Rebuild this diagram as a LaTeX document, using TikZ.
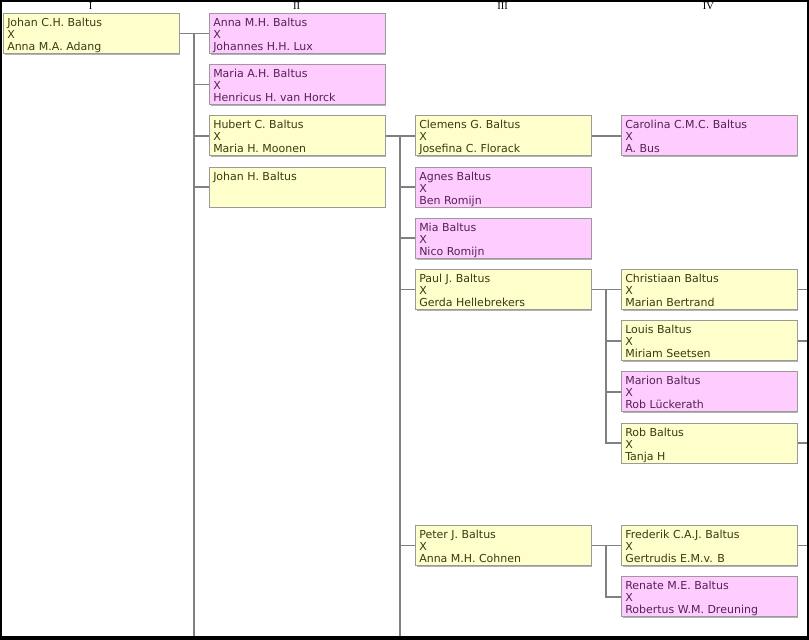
\documentclass[tikz,border=0pt]{standalone}
\usepackage{fontspec}
\setmainfont{DejaVu Sans}
\newfontfamily\hdrfont{Liberation Serif}
\usetikzlibrary{shadows,backgrounds}
\definecolor{boxyel}{HTML}{FFFFCC}
\definecolor{boxpnk}{HTML}{FFCCFF}
\definecolor{txtyel}{HTML}{3A3A14}
\definecolor{txtpnk}{HTML}{552255}
\definecolor{boxline}{HTML}{9A9A9A}
\definecolor{linegray}{HTML}{808080}
\newcommand{\ptext}[1]{\parbox[t][36bp][t]{168bp}{\fontsize{11bp}{12bp}\selectfont\rule{0pt}{11bp}#1}}
\tikzset{
  person/.style={rectangle, anchor=north west, minimum width=175bp, minimum height=40bp,
    inner xsep=3.8bp, inner ysep=2bp, draw=boxline, line width=0.9bp,
    drop shadow={shadow xshift=1.4bp, shadow yshift=-1.4bp, fill=black!30, opacity=1}},
  yel/.style={person, fill=boxyel, text=txtyel},
  pnk/.style={person, fill=boxpnk, text=txtpnk},
  conn/.style={draw=linegray, line width=1.7bp},
  hdr/.style={font=\hdrfont\fontsize{10.5bp}{12bp}\selectfont, text=black, inner sep=0pt},
}
\begin{document}
\begin{tikzpicture}[x=1bp, y=-1bp]
\useasboundingbox (0,0) rectangle (809,640);
% headers
\node[hdr] (h1) at (90.5,6.5) {I};
\node[hdr] (h2) at (296.5,6.5) {II};
\node[hdr] (h3) at (502.5,6.5) {III};
\node[hdr] (h4) at (708.5,6.5) {IV};
% column I
\node[yel] (johan) at (3,13) {\ptext{Johan C.H. Baltus\\X\\Anna M.A. Adang}};
% column II
\node[pnk] (annamh) at (209,13) {\ptext{Anna M.H. Baltus\\X\\Johannes H.H. Lux}};
\node[pnk] (mariaah) at (209,64.2) {\ptext{Maria A.H. Baltus\\X\\Henricus H. van Horck}};
\node[yel] (hubert) at (209,115.4) {\ptext{Hubert C. Baltus\\X\\Maria H. Moonen}};
\node[yel] (johanh) at (209,166.6) {\ptext{Johan H. Baltus}};
% column III
\node[yel] (clemens) at (415,115.4) {\ptext{Clemens G. Baltus\\X\\Josefina C. Florack}};
\node[pnk] (agnes) at (415,166.6) {\ptext{Agnes Baltus\\X\\Ben Romijn}};
\node[pnk] (mia) at (415,217.8) {\ptext{Mia Baltus\\X\\Nico Romijn}};
\node[yel] (paul) at (415,269) {\ptext{Paul J. Baltus\\X\\Gerda Hellebrekers}};
\node[yel] (peter) at (415,525) {\ptext{Peter J. Baltus\\X\\Anna M.H. Cohnen}};
% column IV
\node[pnk] (carolina) at (621,115.4) {\ptext{Carolina C.M.C. Baltus\\X\\A. Bus}};
\node[yel] (christiaan) at (621,269) {\ptext{Christiaan Baltus\\X\\Marian Bertrand}};
\node[yel] (louis) at (621,320.2) {\ptext{Louis Baltus\\X\\Miriam Seetsen}};
\node[pnk] (marion) at (621,371.4) {\ptext{Marion Baltus\\X\\Rob Lückerath}};
\node[yel] (rob) at (621,422.6) {\ptext{Rob Baltus\\X\\Tanja H}};
\node[yel] (frederik) at (621,525) {\ptext{Frederik C.A.J. Baltus\\X\\Gertrudis E.M.v. B}};
\node[pnk] (renate) at (621,576.2) {\ptext{Renate M.E. Baltus\\X\\Robertus W.M. Dreuning}};
% spine coordinates
\coordinate (botI) at (194,636);
\coordinate (botII) at (400,636);
\coordinate (spP) at (606,0);
\coordinate (redge) at (807,0);
\begin{scope}[on background layer]
  \fill[black] (0,0) rectangle (809,640);
  \fill[white] (2,2.5) rectangle (806.7,636);
  % column I to II
  \draw[conn] (johan.east) -| (botI);
  \foreach \n in {annamh,mariaah,hubert,johanh}
    \draw[conn] (botI |- \n.west) -- (\n.west);
  % Hubert to III
  \draw[conn] (hubert.east) -| (botII);
  \foreach \n in {clemens,agnes,mia,paul,peter}
    \draw[conn] (botII |- \n.west) -- (\n.west);
  % Clemens to Carolina
  \draw[conn] (clemens.east) -- (carolina.west);
  % Paul to IV
  \draw[conn] (paul.east) -- (paul.east -| spP) -- (spP |- rob.west) -- (rob.west);
  \foreach \n in {christiaan,louis,marion}
    \draw[conn] (spP |- \n.west) -- (\n.west);
  % Peter to IV
  \draw[conn] (peter.east) -- (peter.east -| spP) -- (spP |- renate.west) -- (renate.west);
  \draw[conn] (spP |- frederik.west) -- (frederik.west);
  % stubs to the right edge
  \foreach \n in {christiaan,louis,rob,frederik}
    \draw[conn] (\n.east) -- (\n.east -| redge);
\end{scope}
\end{tikzpicture}
\end{document}
